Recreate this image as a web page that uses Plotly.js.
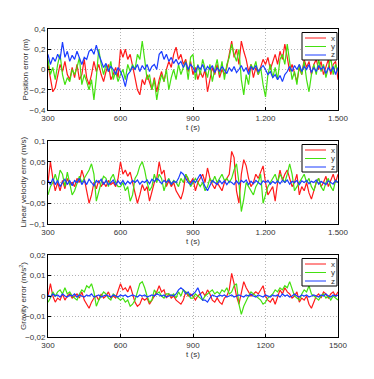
<!DOCTYPE html>
<html><head><meta charset="utf-8">
<script src="https://cdn.plot.ly/plotly-3.0.1.min.js"></script>
<style>html,body{margin:0;padding:0;background:#fff}</style>
</head><body><div id="chart" style="width:374px;height:379px"></div>
<script>
// ---------------- data ----------------
const seriesNames = ['x', 'y', 'z'];
const seriesColors = ['#ff1a1a', '#44e010', '#1a3cff'];

const time = [
 300,310,320,330,340,350,360,370,380,390,
 400,410,420,430,440,450,460,470,480,490,
 500,510,520,530,540,550,560,570,580,590,
 600,610,620,630,640,650,660,670,680,690,
 700,710,720,730,740,750,760,770,780,790,
 800,810,820,830,840,850,860,870,880,890,
 900,910,920,930,940,950,960,970,980,990,
 1000,1010,1020,1030,1040,1050,1060,1070,1080,1090,
 1100,1110,1120,1130,1140,1150,1160,1170,1180,1190,
 1200,1210,1220,1230,1240,1250,1260,1270,1280,1290,
 1300,1310,1320,1330,1340,1350,1360,1370,1380,1390,
 1400,1410,1420,1430,1440,1450,1460,1470,1480,1490,
 1500];

const posX = [
 0.05,-0.1,-0.22,-0.18,-0.05,0.05,-0.02,0.08,-0.05,-0.1,
 0.02,-0.08,0.05,-0.1,-0.05,0.1,-0.08,-0.15,-0.05,0.08,
 -0.02,0.05,-0.05,-0.12,-0.02,0.05,-0.1,-0.05,0.02,-0.08,
 0.2,0.12,0.2,0.1,0.15,0.02,-0.08,-0.2,-0.25,-0.1,
 -0.15,-0.05,-0.12,-0.2,-0.08,-0.22,-0.1,-0.02,-0.12,0.0,
 0.08,0.02,0.15,0.22,0.1,0.15,0.05,0.1,-0.02,0.08,
 -0.05,0.02,-0.1,-0.02,-0.08,0.0,-0.22,-0.1,0.02,-0.05,
 0.05,-0.08,0.0,-0.05,0.02,0.15,0.28,0.12,0.2,0.05,
 0.28,0.18,0.1,-0.02,0.05,-0.08,0.02,-0.05,0.03,0.1,
 0.05,0.12,0.0,0.08,0.15,0.05,0.18,0.1,0.25,0.12,
 -0.02,0.05,-0.05,-0.12,0.02,-0.05,0.1,0.02,0.08,-0.05,
 0.05,0.1,0.0,0.08,-0.05,0.02,0.1,-0.05,0.05,0.08,
 -0.1];
const posY = [
 0.1,-0.05,0.02,-0.1,0.05,0.15,-0.05,-0.15,-0.08,-0.12,
 0.0,-0.05,0.02,0.12,-0.15,-0.05,-0.12,-0.2,-0.1,-0.3,
 -0.08,0.2,0.05,-0.05,0.05,-0.02,0.08,-0.1,-0.02,-0.12,
 -0.05,0.0,-0.1,0.05,-0.02,0.05,0.0,0.15,0.1,0.28,
 0.1,-0.1,-0.05,-0.2,-0.1,-0.3,-0.15,-0.05,-0.12,0.0,
 -0.2,-0.08,0.0,-0.1,0.05,-0.05,0.02,0.08,-0.1,0.12,
 0.15,-0.1,0.05,-0.05,0.1,0.02,-0.08,0.05,-0.12,0.0,
 0.1,-0.05,0.08,-0.1,0.05,0.12,0.25,0.15,0.08,0.2,
 -0.1,-0.25,-0.05,-0.15,0.05,0.0,0.08,-0.05,0.02,-0.15,
 -0.27,-0.05,0.05,-0.08,0.02,-0.1,0.1,0.15,0.05,0.25,
 0.05,-0.1,-0.02,-0.15,0.05,-0.05,0.08,-0.1,-0.22,-0.05,
 0.05,-0.05,0.1,-0.02,0.05,-0.08,0.02,0.12,-0.05,0.05,
 -0.02];
const posZ = [
 0.15,0.05,0.12,0.08,0.15,0.1,0.27,0.12,0.18,0.08,
 0.14,0.1,0.18,0.12,0.05,0.12,0.1,0.18,0.2,0.15,
 0.24,0.15,0.08,0.02,0.06,-0.02,0.03,0.0,-0.05,0.02,
 -0.02,-0.08,-0.17,-0.05,-0.02,0.03,0.0,0.05,-0.02,0.04,
 0.0,0.05,-0.02,0.03,0.05,0.0,0.15,0.18,0.1,0.15,
 0.08,0.12,0.06,0.1,0.05,0.08,0.02,0.07,0.0,0.05,
 0.02,-0.03,0.04,0.0,0.05,-0.02,0.03,0.0,0.04,-0.03,
 0.02,-0.02,0.03,0.0,-0.04,0.02,-0.02,0.03,-0.03,0.0,
 0.04,-0.02,0.02,-0.05,0.03,0.0,0.04,-0.02,0.01,0.04,
 0.0,-0.05,-0.02,-0.08,-0.05,-0.1,-0.06,-0.12,-0.05,-0.02,
 0.03,-0.02,0.04,0.0,0.05,-0.02,0.03,0.0,0.05,-0.03,
 0.02,-0.02,0.04,0.0,0.03,-0.04,0.02,-0.02,0.03,-0.05,
 0.02];

const velX = [
 0.0,0.05,0.01,-0.02,0.0,-0.02,0.005,-0.015,0.01,-0.005,
 0.0,-0.01,0.01,0.0,0.03,0.01,-0.02,-0.05,-0.03,0.0,
 -0.015,0.005,-0.01,0.0,-0.01,0.005,-0.005,0.0,-0.01,0.01,
 0.05,0.02,0.03,0.015,0.025,0.0,-0.03,-0.05,-0.03,-0.005,
 -0.02,-0.01,-0.045,-0.02,0.0,0.01,0.05,0.02,0.03,-0.01,
 0.005,-0.01,0.0,-0.02,-0.03,-0.04,-0.02,0.02,0.005,0.0,
 0.01,-0.02,0.0,0.01,0.02,0.0,0.035,0.01,-0.005,-0.015,
 0.0,-0.01,-0.02,0.0,0.01,0.02,0.075,0.06,-0.02,-0.05,
 0.02,0.055,0.04,0.01,-0.01,0.0,0.02,0.01,0.025,0.04,
 0.0,-0.03,-0.02,-0.01,-0.045,0.0,0.03,0.005,0.02,0.03,
 0.01,-0.01,0.0,0.02,-0.03,-0.01,-0.02,0.0,-0.025,-0.04,
 -0.02,0.0,0.01,-0.01,0.0,0.015,-0.01,0.005,0.02,0.0,
 0.02];
const velY = [
 -0.03,-0.01,0.0,0.02,0.0,0.03,0.02,-0.01,0.025,0.0,
 -0.03,-0.02,0.0,0.015,0.0,0.01,0.02,0.03,0.045,0.02,
 -0.045,-0.02,0.0,0.015,0.01,-0.01,0.01,0.02,0.0,-0.01,
 -0.01,0.0,-0.02,-0.01,-0.045,-0.03,0.01,0.02,0.04,0.05,
 0.03,0.0,-0.02,-0.01,0.02,0.0,0.02,0.01,-0.02,0.0,
 0.01,-0.005,0.005,0.0,-0.01,0.01,0.0,0.02,0.01,-0.01,
 0.0,0.01,0.0,-0.01,0.0,-0.02,-0.01,0.01,0.0,0.015,
 0.0,0.01,0.02,0.005,0.01,0.0,0.01,0.03,0.045,0.0,
 -0.07,-0.04,0.0,-0.01,-0.02,-0.03,-0.01,0.0,0.02,-0.05,
 -0.03,-0.01,0.0,0.01,0.02,0.0,0.02,0.01,0.0,0.02,
 0.045,0.02,-0.02,-0.01,0.0,0.01,0.02,0.0,0.01,-0.01,
 -0.02,0.0,0.01,-0.01,-0.02,0.0,0.01,-0.01,-0.02,0.005,
 0.0];
const velZ = [
 0.005,-0.005,0.01,-0.005,0.005,-0.01,0.0,0.008,-0.005,0.005,
 -0.008,0.005,0.0,0.01,-0.005,0.005,-0.005,0.008,0.0,-0.008,
 0.005,0.0,0.008,-0.005,0.005,-0.005,0.0,0.006,-0.006,0.004,
 -0.004,0.005,-0.005,0.003,-0.003,0.005,0.0,0.006,-0.004,0.003,
 0.0,0.006,-0.003,0.008,0.002,0.01,0.005,-0.003,0.005,0.0,
 0.006,-0.004,0.003,0.0,0.01,0.025,0.02,0.01,0.0,-0.005,
 0.005,0.0,0.01,0.02,0.005,-0.01,-0.02,-0.005,0.005,0.0,
 -0.005,0.005,-0.003,0.004,-0.005,0.003,0.0,-0.005,0.004,-0.004,
 0.005,0.0,0.006,-0.005,0.003,-0.003,0.005,0.0,-0.005,0.004,
 0.0,0.005,-0.004,0.003,-0.002,0.004,-0.003,0.005,0.0,0.006,
 -0.004,0.003,0.0,0.005,-0.005,0.004,0.0,0.005,-0.003,0.003,
 0.0,0.006,-0.004,0.003,0.0,-0.005,0.004,0.0,-0.004,0.005,
 0.0];

const gravX = [
 0.0,0.006,0.0,-0.003,-0.001,-0.002,0.001,-0.002,0.0,0.001,
 -0.001,0.0,0.001,-0.001,0.002,-0.002,-0.004,-0.006,-0.003,-0.001,
 0.0,-0.002,0.001,-0.001,0.0,0.002,-0.001,0.0,-0.001,0.002,
 0.006,0.003,0.004,0.002,0.005,0.001,-0.003,-0.005,-0.004,-0.001,
 -0.002,-0.001,-0.004,-0.002,0.0,0.002,0.005,0.002,0.003,-0.001,
 0.001,-0.001,0.0,-0.002,-0.003,-0.004,-0.002,0.002,0.0,0.001,
 0.0,-0.002,0.0,0.001,0.002,0.0,0.003,0.001,-0.002,-0.003,
 -0.001,-0.003,-0.004,-0.001,0.0,0.003,0.011,0.006,0.0,-0.004,
 0.002,0.007,0.004,0.002,0.0,0.001,0.002,0.001,0.003,0.005,
 0.0,-0.002,-0.003,-0.001,-0.004,0.0,0.003,0.001,0.004,0.002,
 0.001,-0.001,0.0,0.002,-0.003,-0.001,-0.002,0.0,-0.004,-0.006,
 -0.003,0.0,0.001,-0.001,0.002,0.001,-0.001,0.001,0.002,0.0,
 0.002];
const gravY = [
 -0.003,-0.001,0.002,0.0,0.002,0.003,0.001,0.004,0.001,0.002,
 0.0,-0.001,-0.002,0.001,0.003,0.002,0.005,0.004,0.006,0.002,
 -0.005,-0.002,0.0,0.002,0.001,-0.001,-0.002,0.001,0.0,-0.001,
 -0.002,-0.001,-0.003,-0.002,-0.005,-0.004,-0.002,0.002,0.006,0.007,
 0.004,0.0,-0.003,-0.002,0.003,0.001,0.002,0.0,-0.001,0.001,
 0.001,0.0,0.001,-0.001,0.002,0.0,0.003,0.002,0.001,-0.001,
 -0.001,0.001,0.0,-0.001,-0.002,0.0,0.001,0.002,0.003,0.001,
 0.002,0.001,0.003,0.002,0.004,0.001,0.002,0.005,0.006,-0.004,
 -0.009,-0.005,-0.002,0.0,0.002,0.001,0.0,-0.001,-0.002,-0.004,
 -0.003,-0.001,0.0,0.001,0.003,0.002,0.004,0.003,0.005,0.004,
 0.007,0.004,0.0,-0.001,-0.002,0.001,0.003,0.002,0.005,0.001,
 0.0,-0.001,-0.002,0.0,0.001,-0.001,0.0,-0.002,0.0,-0.001,
 -0.002];
const gravZ = [
 0.0005,-0.0005,0.001,0.0,0.0005,-0.0005,0.001,0.0,-0.0005,0.0005,
 0.0,0.001,-0.0005,0.0005,0.0,-0.0005,0.0005,0.0,0.001,-0.0005,
 0.0,0.0005,-0.0005,0.0,0.0005,0.0,-0.0005,0.0005,0.0,-0.0005,
 0.0005,0.0,0.0005,-0.0005,0.0,0.0005,0.0,-0.0005,0.0005,0.0,
 0.0005,-0.0005,0.0,0.0005,0.0,0.001,0.0005,0.0,0.0005,-0.0005,
 0.0,0.0005,0.0,0.001,0.003,0.004,0.003,0.001,0.002,0.0,
 0.001,0.002,0.004,0.001,-0.002,-0.002,-0.003,-0.001,0.0005,0.0,
 -0.0005,0.0005,0.0,0.0005,-0.0005,0.0,0.0005,-0.0005,0.0,0.0005,
 0.0,-0.0005,0.0005,0.0,0.001,0.0,-0.0005,0.0005,0.0,-0.0005,
 0.0005,0.0,-0.0005,0.0005,0.0,0.0005,-0.0005,0.001,0.0,0.0005,
 -0.0005,0.0,0.001,0.0,-0.0005,0.0005,0.0,0.0005,-0.0005,0.0,
 0.0005,0.0,-0.0005,0.0005,0.0,0.001,0.0,-0.0005,0.0005,0.0,
 0.0005];

const xTickVals = [300, 600, 900, 1200, 1500];
const xTickTextA = ['300', '600', '900', '1.200', '1.500'];
const xTickTextB = ['300', '600', '900', '1200', '1500'];

const yTickVals1 = [-0.4, -0.2, 0, 0.2, 0.4];
const yTickText1 = ['\u22120,4', '\u22120,2', '0', '0,2', '0,4'];
const yTickVals2 = [-0.1, -0.05, 0, 0.05, 0.1];
const yTickText2 = ['\u22120,1', '\u22120,05', '0', '0,05', '0,1'];
const yTickVals3 = [-0.02, -0.01, 0, 0.01, 0.02];
const yTickText3 = ['\u22120,02', '\u22120,01', '0', '0,01', '0,02'];

const yTitles = ['Position error (m)', 'Linear velocity error (m/s)', 'Gravity error (m/s<sup>2</sup>)'];
const xTitle = 't (s)';

// ---------------- layout helpers ----------------
const W = 374, H = 379;
const M = {l: 48, r: 36, t: 29, b: 42};
const plotH = H - M.t - M.b;
const plotW = W - M.l - M.r;
const panelPx = [[29, 110], [141, 224], [255, 337]]; // top, bottom in px
const yTitlePx = [25, 23, 23];
const py2paper = py => (H - M.b - py) / plotH;
const px2paper = px => (px - M.l) / plotW;

const panels = [
  {data: [posX, posY, posZ], yv: yTickVals1, yt: yTickText1, xt: xTickTextA, range: [-0.4, 0.4]},
  {data: [velX, velY, velZ], yv: yTickVals2, yt: yTickText2, xt: xTickTextA, range: [-0.1, 0.1]},
  {data: [gravX, gravY, gravZ], yv: yTickVals3, yt: yTickText3, xt: xTickTextB, range: [-0.02, 0.02]}
];

const font = {family: 'Liberation Sans, Arial, sans-serif', size: 8, color: '#333'};
const traces = [];
const layout = {
  width: W, height: H,
  margin: M,
  paper_bgcolor: '#fff', plot_bgcolor: '#fff',
  showlegend: false,
  font: font,
  shapes: [], annotations: []
};

panels.forEach((p, i) => {
  const s = i === 0 ? '' : String(i + 1);
  p.data.forEach((arr, k) => {
    traces.push({
      x: time, y: arr, xaxis: 'x' + s, yaxis: 'y' + s,
      type: 'scatter', mode: 'lines', name: seriesNames[k],
      line: {color: seriesColors[k], width: 1.2},
      hoverinfo: 'skip'
    });
  });
  const common = {
    showline: true, mirror: true, linecolor: '#000', linewidth: 1,
    ticks: 'inside', ticklen: 3, tickcolor: '#000',
    showgrid: true, gridcolor: '#b4b4b4', griddash: '1px,2px', gridwidth: 1,
    zeroline: false, tickfont: font, fixedrange: true
  };
  const top = panelPx[i][0], bot = panelPx[i][1];
  layout['xaxis' + s] = Object.assign({}, common, {
    domain: [0, 1], anchor: 'y' + s, range: [300, 1500],
    tickmode: 'array', tickvals: xTickVals, ticktext: p.xt,
    title: {text: xTitle, font: font, standoff: 1}
  });
  layout['yaxis' + s] = Object.assign({}, common, {
    domain: [py2paper(bot), py2paper(top)], anchor: 'x' + s, range: p.range,
    tickmode: 'array', tickvals: p.yv, ticktext: p.yt
  });
  // y-axis title (rotated text beside the tick labels)
  layout.annotations.push({xref: 'paper', yref: 'paper',
    x: px2paper(yTitlePx[i]), y: py2paper((top + bot) / 2),
    xanchor: 'center', yanchor: 'middle', textangle: -90,
    text: yTitles[i], showarrow: false, font: font});
  // compact legend box
  const bx0 = 302, bx1 = 337;
  layout.shapes.push({type: 'rect', xref: 'paper', yref: 'paper',
    x0: px2paper(bx0), x1: px2paper(bx1), y0: py2paper(top + 31), y1: py2paper(top + 3.5),
    line: {color: '#000', width: 1}, fillcolor: '#fff', layer: 'above'});
  [9, 17.5, 26].forEach((dy, k) => {
    layout.shapes.push({type: 'line', xref: 'paper', yref: 'paper',
      x0: px2paper(305), x1: px2paper(326), y0: py2paper(top + dy), y1: py2paper(top + dy),
      line: {color: seriesColors[k], width: 1}, layer: 'above'});
    layout.annotations.push({xref: 'paper', yref: 'paper', x: px2paper(328.5), y: py2paper(top + dy),
      xanchor: 'left', yanchor: 'middle', text: seriesNames[k], showarrow: false, font: font});
  });
});

Plotly.newPlot('chart', traces, layout, {staticPlot: true, displayModeBar: false});
</script></body></html>
